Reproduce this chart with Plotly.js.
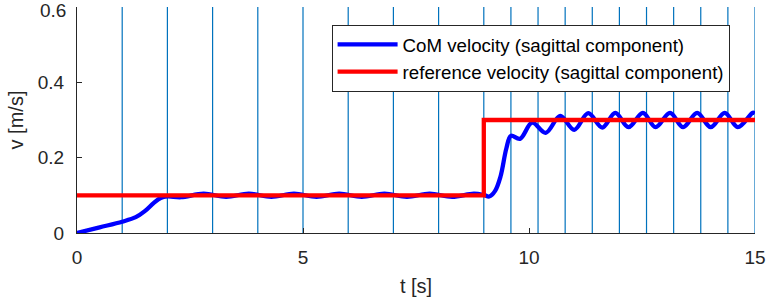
<!DOCTYPE html>
<html>
<head>
<meta charset="utf-8">
<script src="https://cdn.plot.ly/plotly-3.0.1.min.js"></script>
<style>
  html, body { margin: 0; padding: 0; background: #fff; }
  #plot { width: 767px; height: 303px; }
</style>
</head>
<body>
<div id="plot"></div>
<script>
// Step event times (vertical markers)
const stepTimes = [1, 2, 3, 4, 5, 6, 7, 8, 9, 9.6, 10.2, 10.8, 11.4, 12.0, 12.6, 13.2, 13.8, 14.4, 15.0];

// CoM velocity, sagittal component
const comT = [0, 0.5, 1.0, 1.3, 1.5, 1.7, 1.85, 2.0, 2.3,
  2.8, 3.3, 3.8, 4.3, 4.8, 5.3, 5.8, 6.3, 6.8, 7.3, 7.8, 8.3, 8.78,
  9.0, 9.12, 9.25, 9.37, 9.5, 9.6, 9.8, 10.07, 10.37, 10.69, 11.0, 11.31,
  11.62, 11.91, 12.2, 12.52, 12.8, 13.12, 13.41, 13.72, 14.02, 14.33, 14.62, 14.95, 15.0];
const comV = [0, 0.015, 0.030, 0.042, 0.058, 0.080, 0.093, 0.097, 0.095,
  0.1045, 0.096, 0.1045, 0.096, 0.1045, 0.096, 0.1045, 0.096, 0.1045, 0.096, 0.1045, 0.096, 0.1045,
  0.101, 0.097, 0.112, 0.150, 0.225, 0.258, 0.250, 0.293, 0.266, 0.311, 0.274, 0.318,
  0.280, 0.319, 0.281, 0.319, 0.281, 0.319, 0.281, 0.319, 0.281, 0.319, 0.281, 0.319, 0.318];

// Reference velocity, sagittal component
const refT = [0, 9, 9, 15];
const refV = [0.1, 0.1, 0.3, 0.3];

// Axis ticks
const xTicks = [0, 5, 10, 15];
const yTicks = [0, 0.2, 0.4, 0.6];
const yTickLabels = ['0', '0.2', '0.4', '0.6'];

const yMin = 0, yMax = 0.6;
const stepX = [], stepY = [];
stepTimes.forEach(t => { stepX.push(t, t, null); stepY.push(yMin, yMax, null); });

const axisColor = '#262626';
const font = 'Liberation Sans, Arial, Helvetica, sans-serif';
const tickFontSize = 19;

// The topmost y label sits at the very edge of the figure; it is drawn as an
// annotation nudged slightly down so it is not clipped.
const lastY = yTicks.length - 1;
const yTickTextShown = yTickLabels.map((s, i) => (i === lastY ? '' : s));

const traces = [
  {
    x: stepX, y: stepY, mode: 'lines', showlegend: false, hoverinfo: 'skip',
    line: { color: '#0072BD', width: 1.2 }
  },
  {
    x: comT, y: comV, mode: 'lines', name: 'CoM velocity (sagittal component)',
    line: { color: '#0000FF', width: 4.3, shape: 'spline', smoothing: 1 }
  },
  {
    x: refT, y: refV, mode: 'lines', name: 'reference velocity (sagittal component)',
    line: { color: '#FF0000', width: 4.3 }
  }
];

const layout = {
  width: 767, height: 303,
  margin: { l: 77.3, r: 12.3, t: 7.3, b: 69.7, pad: 0 },
  paper_bgcolor: '#fff', plot_bgcolor: '#fff',
  font: { family: font, color: axisColor, size: tickFontSize },
  showlegend: true,
  legend: {
    x: 0.3755, y: 0.922, xanchor: 'left', yanchor: 'top',
    bgcolor: '#fff', bordercolor: axisColor, borderwidth: 1,
    font: { family: font, size: 18.7, color: '#000' },
    itemwidth: 60, tracegroupgap: 0
  },
  xaxis: {
    range: [0, 15], tickvals: xTicks, ticktext: xTicks.map(String),
    ticks: 'inside', ticklen: 5, tickcolor: axisColor, tickwidth: 1,
    showgrid: false, zeroline: false, showline: true, linecolor: axisColor, linewidth: 1,
    mirror: false, ticklabelstandoff: 7, ticklabeloverflow: 'allow',
    tickfont: { family: font, size: tickFontSize, color: axisColor },
    title: { text: 't [s]', font: { family: font, size: 20, color: axisColor }, standoff: 12 }
  },
  yaxis: {
    range: [yMin, yMax], tickvals: yTicks, ticktext: yTickTextShown,
    ticks: 'inside', ticklen: 5, tickcolor: axisColor, tickwidth: 1,
    showgrid: false, zeroline: false, showline: true, linecolor: axisColor, linewidth: 1,
    mirror: false, ticklabelstandoff: 8, ticklabeloverflow: 'allow',
    tickfont: { family: font, size: tickFontSize, color: axisColor },
    title: { text: 'v [m/s]', font: { family: font, size: 20, color: axisColor }, standoff: 8 }
  },
  annotations: [{
    xref: 'paper', x: 0, xanchor: 'right', xshift: -9,
    yref: 'y', y: yTicks[lastY], yanchor: 'top', yshift: 9,
    text: yTickLabels[lastY], showarrow: false,
    font: { family: font, size: tickFontSize, color: axisColor }
  }]
};

Plotly.newPlot('plot', traces, layout, { displayModeBar: false, staticPlot: true });
</script>
</body>
</html>
